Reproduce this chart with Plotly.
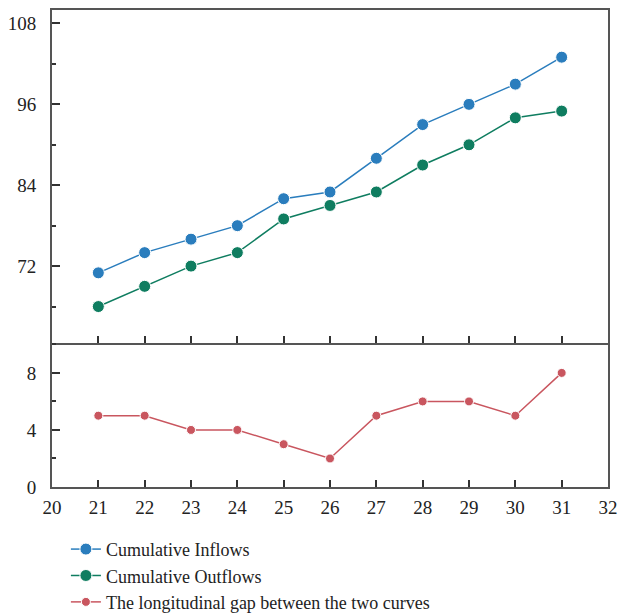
import plotly.graph_objects as go

days = [21, 22, 23, 24, 25, 26, 27, 28, 29, 30, 31]
inflows = [71, 74, 76, 78, 82, 83, 88, 93, 96, 99, 103]
outflows = [66, 69, 72, 74, 79, 81, 83, 87, 90, 94, 95]
gap = [5, 5, 4, 4, 3, 2, 5, 6, 6, 5, 8]

BLUE = "#2a7dbd"
GREEN = "#0f7d60"
RED = "#c9565f"
AX = "#555555"
FONT = "Liberation Serif"

fig = go.Figure()
fig.add_trace(go.Scatter(x=days, y=inflows, mode="lines+markers", name="Cumulative Inflows",
                         line=dict(color=BLUE, width=1.5),
                         marker=dict(size=12, color=BLUE, line=dict(color="white", width=1)),
                         xaxis="x", yaxis="y"))
fig.add_trace(go.Scatter(x=days, y=outflows, mode="lines+markers", name="Cumulative Outflows",
                         line=dict(color=GREEN, width=1.5),
                         marker=dict(size=12, color=GREEN, line=dict(color="white", width=1)),
                         xaxis="x", yaxis="y"))
fig.add_trace(go.Scatter(x=days, y=gap, mode="lines+markers",
                         name="The longitudinal gap between the two curves",
                         line=dict(color=RED, width=1.5),
                         marker=dict(size=9, color=RED, line=dict(color="white", width=1)),
                         xaxis="x2", yaxis="y2"))

common_x = dict(range=[20, 32], dtick=1, tick0=20, showline=True, linecolor=AX, linewidth=2,
                ticks="inside", ticklen=7, tickwidth=1.5, tickcolor="#333",
                showgrid=False, zeroline=False, automargin=False)

fig.update_layout(
    width=620, height=616,
    margin=dict(l=52, r=12, t=10, b=129, autoexpand=False),
    paper_bgcolor="white", plot_bgcolor="white",
    font=dict(family=FONT, size=19, color="#222"),
    showlegend=True,
    legend=dict(x=0.025, y=-0.092, xanchor="left", yanchor="top", orientation="v",
                font=dict(family=FONT, size=18, color="#222"), tracegroupgap=0,
                bgcolor="rgba(0,0,0,0)"),
    xaxis=dict(**common_x, anchor="y", mirror=True, showticklabels=False, matches="x2"),
    xaxis2=dict(**common_x, anchor="y2", showticklabels=True, ticklabelstandoff=2),
    yaxis=dict(domain=[0.302, 1], range=[60.6, 110], tick0=0, dtick=12,
               showline=True, linecolor=AX, linewidth=2, mirror=True,
               ticks="inside", ticklen=8, tickwidth=1.5, tickcolor="#333",
               minor=dict(dtick=6, tick0=0, ticks="inside", ticklen=4, tickcolor="#333", tickwidth=1.5),
               showgrid=False, zeroline=False, ticklabelstandoff=10, automargin=False),
    yaxis2=dict(domain=[0, 0.302], range=[0, 10.1], tick0=0, dtick=4,
                showline=True, linecolor=AX, linewidth=2, mirror=True,
                ticks="inside", ticklen=8, tickwidth=1.5, tickcolor="#333",
                minor=dict(dtick=2, tick0=0, ticks="inside", ticklen=4, tickcolor="#333", tickwidth=1.5),
                showgrid=False, zeroline=False, ticklabelstandoff=10, automargin=False),
)

fig.write_html("out.html", config={"displayModeBar": False},
               post_script="document.body.style.margin='0';document.body.style.overflow='hidden';")
